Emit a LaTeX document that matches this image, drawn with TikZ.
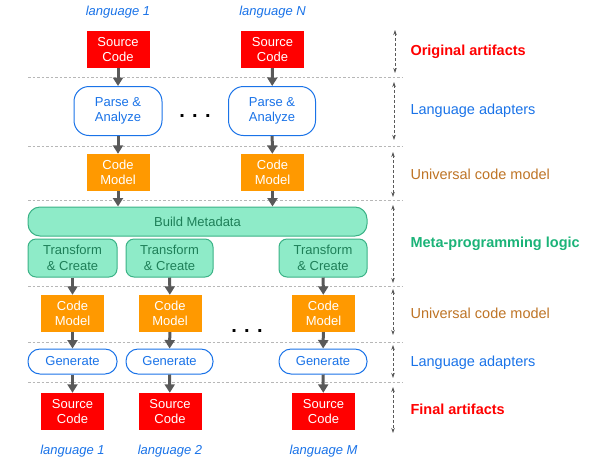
\documentclass[tikz,border=0pt]{standalone}
\usepackage{fontspec}
\setmainfont{Liberation Sans}
\usepackage{tikz}
\usetikzlibrary{arrows.meta, positioning}

\definecolor{srcred}{HTML}{FF0000}
\definecolor{modelorange}{HTML}{FF9900}
\definecolor{adaptblue}{HTML}{1A73E8}
\definecolor{metafill}{HTML}{8EEBC8}
\definecolor{metaline}{HTML}{3BB286}
\definecolor{metatext}{HTML}{1E7F58}
\definecolor{metalabel}{HTML}{1BB378}
\definecolor{modelbrown}{HTML}{BE7426}
\definecolor{flowgray}{HTML}{595959}
\definecolor{sepgray}{HTML}{B7B7B7}

\begin{document}
\begin{tikzpicture}[x=1pt, y=-1pt,
    box/.style={align=center, inner sep=0pt, font=\fontsize{13}{15.5}\selectfont},
    srcbox/.style={box, fill=srcred, text=white, minimum width=63pt, minimum height=37pt},
    modelbox/.style={box, fill=modelorange, text=white, minimum width=63pt, minimum height=37pt},
    adaptbox/.style={box, draw=adaptblue, line width=1pt, fill=white, text=adaptblue},
    metabox/.style={box, draw=metaline, line width=1pt, fill=metafill, text=metatext},
    langlabel/.style={font=\fontsize{13}{15}\selectfont\itshape, text=adaptblue},
    layer/.style={anchor=west, font=\fontsize{14.5}{17}\selectfont},
    flow/.style={-{Triangle[width=10pt,length=8.5pt]}, line width=3pt, draw=flowgray},
    span/.style={{Stealth[length=5pt,width=3.5pt]}-{Stealth[length=5pt,width=3.5pt]}, draw=flowgray, line width=0.8pt, dash pattern=on 3pt off 2pt},
    sep/.style={draw=sepgray, line width=0.8pt, dash pattern=on 2.5pt off 2pt}]
\useasboundingbox (0,0) rectangle (601,464);

% Layer separators
\foreach \y in {77,146,200,286,342,382}
    \draw[sep] (28,\y) -- (402,\y);

% Input side
\node[langlabel] (lang1) at (118,12) {language 1};
\node[langlabel] (langN) at (272.5,12) {language N};
\node[srcbox] (src1) at (118,49.5) {Source\\Code};
\node[srcbox] (srcN) at (272.5,49.5) {Source\\Code};
\node[adaptbox, rounded corners=15pt, minimum width=88pt, minimum height=49pt] (parse1) at (118,111) {Parse \&\\Analyze};
\node[adaptbox, rounded corners=15pt, minimum width=87pt, minimum height=49pt] (parseN) at (272,111) {Parse \&\\Analyze};
\node[font=\fontsize{20}{20}\selectfont\bfseries] (dots1) at (195,116) {. . .};
\node[modelbox] (model1) at (118,172.5) {Code\\Model};
\node[modelbox] (modelN) at (272.5,172.5) {Code\\Model};

% Meta-programming
\node[metabox, rounded corners=12pt, minimum width=339pt, minimum height=29pt] (meta) at (197.5,221.5) {Build Metadata};
\node[metabox, rounded corners=8pt, minimum width=89pt, minimum height=38pt] (trans1) at (72.5,258) {Transform\\\& Create};
\node[metabox, rounded corners=8pt, minimum width=87pt, minimum height=38pt] (trans2) at (169.5,258) {Transform\\\& Create};
\node[metabox, rounded corners=8pt, minimum width=88pt, minimum height=38pt] (transM) at (323,258) {Transform\\\& Create};

% Output side
\node[modelbox] (cm1) at (72.5,313.5) {Code\\Model};
\node[modelbox] (cm2) at (170,313.5) {Code\\Model};
\node[modelbox] (cmM) at (323.5,313.5) {Code\\Model};
\node[font=\fontsize{20}{20}\selectfont\bfseries] (dots2) at (247,331) {. . .};
\node[adaptbox, rounded corners=12pt, minimum width=89pt, minimum height=25pt] (gen1) at (72.5,361.5) {Generate};
\node[adaptbox, rounded corners=12pt, minimum width=87pt, minimum height=25pt] (gen2) at (169.5,361.5) {Generate};
\node[adaptbox, rounded corners=12pt, minimum width=88pt, minimum height=25pt] (genM) at (323,361.5) {Generate};
\node[srcbox] (out1) at (72.5,411.5) {Source\\Code};
\node[srcbox] (out2) at (170,411.5) {Source\\Code};
\node[srcbox] (outM) at (323.5,411.5) {Source\\Code};
\node[langlabel] (lang1b) at (72.5,451) {language 1};
\node[langlabel] (lang2b) at (170,451) {language 2};
\node[langlabel] (langMb) at (323.5,451) {language M};

% Flow arrows
\draw[flow] (src1) -- (parse1);
\draw[flow] (srcN) -- (parseN);
\draw[flow] (parse1) -- (model1);
\draw[flow] (parseN) -- (modelN);
\draw[flow] (model1) -- (model1 |- meta.north);
\draw[flow] (modelN) -- (modelN |- meta.north);
\foreach \n in {1,2,M} {
    \draw[flow] (trans\n) -- (cm\n);
    \draw[flow] (cm\n) -- (gen\n);
    \draw[flow] (gen\n) -- (out\n);
}

% Layer labels
\node[layer, text=srcred, font=\fontsize{14.5}{17}\selectfont\bfseries] (l1) at (407,52) {Original artifacts};
\node[layer, text=adaptblue] (l2) at (407,111) {Language adapters};
\node[layer, text=modelbrown] (l3) at (407,174) {Universal code model};
\node[layer, text=metalabel, font=\fontsize{14.5}{17}\selectfont\bfseries] (l4) at (407,244) {Meta-programming logic};
\node[layer, text=modelbrown] (l5) at (407,313) {Universal code model};
\node[layer, text=adaptblue] (l6) at (407,363) {Language adapters};
\node[layer, text=srcred, font=\fontsize{14.5}{17}\selectfont\bfseries] (l7) at (407,409) {Final artifacts};

% Layer extents
\draw[span] (395,30) -- (395,73);
\draw[span] (394,82) -- (394,140);
\draw[span] (393,152) -- (393,197);
\draw[span] (393,205) -- (393,283);
\draw[span] (393,289) -- (393,335);
\draw[span] (393,345) -- (393,378);
\draw[span] (393,387) -- (393,433);
\end{tikzpicture}
\end{document}
